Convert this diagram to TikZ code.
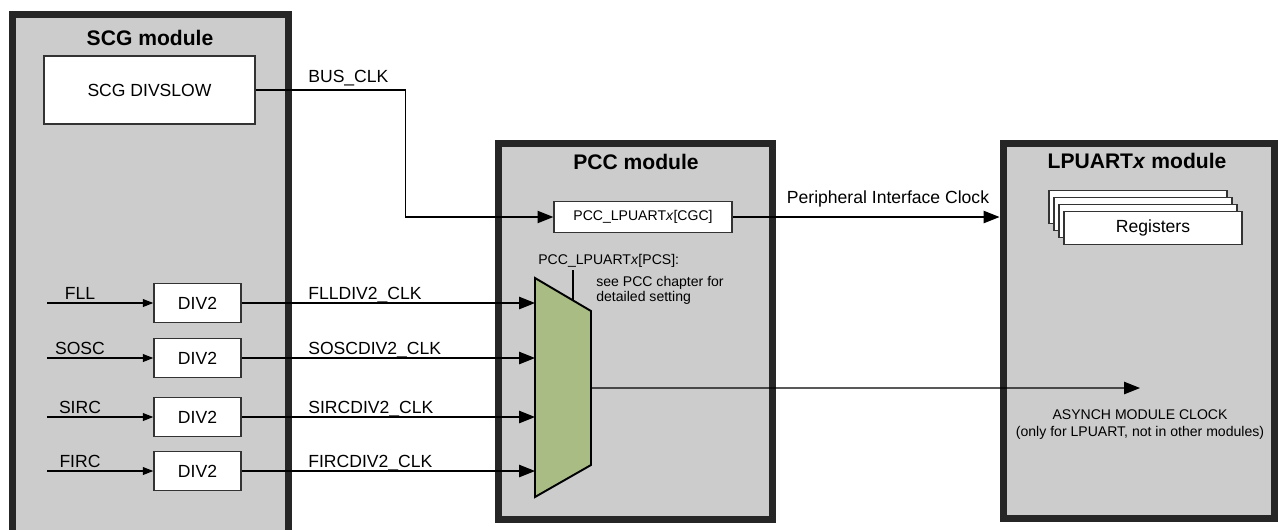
\documentclass[tikz,border=0pt]{standalone}
\usepackage{fontspec}
\setmainfont{Liberation Sans}
\usetikzlibrary{arrows.meta,calc}

\definecolor{modgray}{RGB}{204,204,204}
\definecolor{moddark}{RGB}{38,38,38}
\definecolor{muxgreen}{RGB}{168,188,132}

\begin{document}
\begin{tikzpicture}[x=0.02cm,y=-0.02cm,
    module/.style={draw=moddark,fill=modgray,line width=4pt,inner sep=0pt},
    blk/.style={draw=black!80,fill=white,line width=0.8pt,inner sep=0pt,font=\fontsize{10}{12}\selectfont},
    title/.style={font=\bfseries\fontsize{12}{14}\selectfont,inner sep=0pt},
    lbl/.style={font=\fontsize{10}{12}\selectfont,inner sep=0pt},
    note/.style={font=\fontsize{8}{9.6}\selectfont,inner sep=0pt},
    sig/.style={line width=0.7pt},
    bigarr/.style={sig,-{Triangle[length=9pt,width=7pt]}},
    smallarr/.style={sig,-{Triangle[length=6pt,width=4.5pt]}}]
  \useasboundingbox (0,0) rectangle (1278,529);
  \clip (0,0) rectangle (1278,529);

  % modules
  \node[module,minimum width=5.54cm,minimum height=10.92cm] (scg) at (150.5,287) {};
  \node[module,minimum width=5.5cm,minimum height=7.54cm] (pcc) at (635.5,331.5) {};
  \node[module,minimum width=5.44cm,minimum height=7.52cm] (lpuart) at (1139,331) {};
  \node[title] (scgtitle) at (150,38) {SCG module};
  \node[title] (pcctitle) at (636,162) {PCC module};
  \node[title] (lputitle) at (1137,161) {LPUART\textit{x} module};

  % SCG side
  \node[blk,minimum width=4.22cm,minimum height=1.36cm] (divslow) at (149.5,90) {SCG DIVSLOW};

  % PCC side
  \node[blk,font=\fontsize{8}{9.6}\selectfont,minimum width=3.56cm,minimum height=0.62cm] (cgc) at (643,217) {PCC\_LPUART\textit{x}[CGC]};
  \draw[bigarr] (divslow.east) -- ++(150,0) |- (cgc.west);
  \node[lbl,anchor=base west] (buslbl) at (308,82) {BUS\_CLK};

  \draw[line width=1.1pt,fill=muxgreen] (535,278) coordinate (mtl) -- (591,311) coordinate (mtr)
    -- (591,465) coordinate (mbr) -- (535,497) coordinate (mbl) -- cycle;
  \coordinate (sel) at ($(mtl)!0.68!(mtr)$);
  \draw[sig] (sel) -- ++(0,-30);
  \node[note,anchor=base west] (pcslbl) at (538,264) {PCC\_LPUART\textit{x}[PCS]:};
  \node[note,anchor=base west] (pcsnote1) at (596,286) {see PCC chapter for};
  \node[note,anchor=base west] (pcsnote2) at (596,301) {detailed setting};

  \foreach \src/\y [count=\i] in {FLL/303,SOSC/358,SIRC/417,FIRC/471} {
    \node[blk,minimum width=1.74cm,minimum height=0.78cm] (div\i) at (197.5,\y) {DIV2};
    \coordinate (in\i) at (47,\y);
    \draw[smallarr] (in\i) -- (div\i.west);
    \node[lbl,anchor=base] (inlbl\i) at (80,\y-4) {\src};
    \draw[bigarr] (div\i.east) -- (div\i.east -| mtl);
    \node[lbl,anchor=base west] (outlbl\i) at (308,\y-4) {\src DIV2\_CLK};
  }

  % LPUART side
  \draw[bigarr] (cgc.east) -- (cgc.east -| lpuart.west);
  \node[lbl,anchor=base] (pilbl) at (888,203) {Peripheral Interface Clock};
  \foreach \k in {3,2,1}
    \node[blk,minimum width=3.56cm,minimum height=0.66cm] (reg\k) at (1153-5*\k,228-7*\k) {};
  \node[blk,minimum width=3.56cm,minimum height=0.66cm] (regs) at (1153,228) {Registers};

  \coordinate (async) at (1140,388);
  \draw[bigarr] ($(mtr)!0.5!(mbr)$) -- (async);
  \node[note,anchor=base] (asynclbl1) at (1140,419) {ASYNCH MODULE CLOCK};
  \node[note,anchor=base] (asynclbl2) at (1140,436) {(only for LPUART, not in other modules)};
\end{tikzpicture}
\end{document}
